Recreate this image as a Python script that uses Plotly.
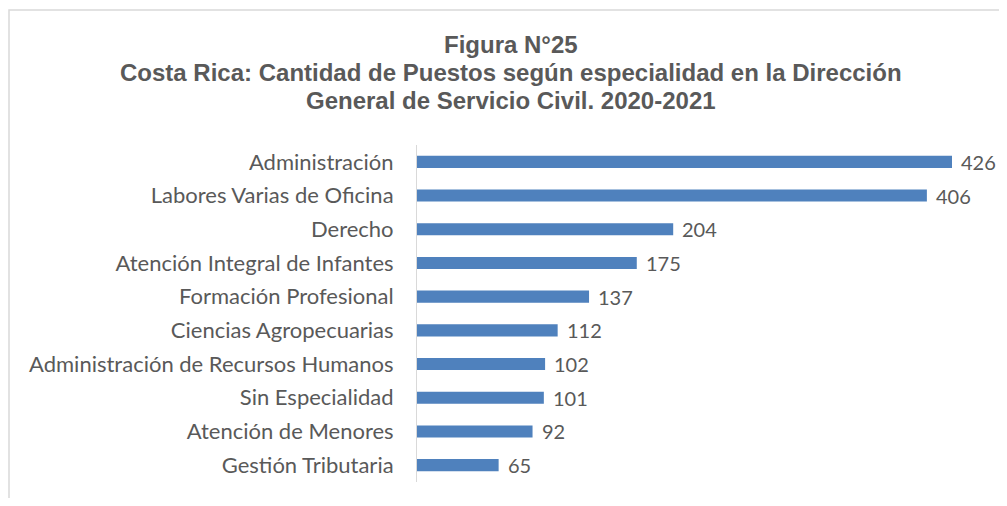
import plotly.graph_objects as go

categories = ["Administración", "Labores Varias de Oficina", "Derecho",
              "Atención Integral de Infantes", "Formación Profesional",
              "Ciencias Agropecuarias", "Administración de Recursos Humanos",
              "Sin Especialidad", "Atención de Menores", "Gestión Tributaria"]
values = [426, 406, 204, 175, 137, 112, 102, 101, 92, 65]
title_lines = ["Figura N°25",
               "Costa Rica: Cantidad de Puestos según especialidad en la Dirección",
               "General de Servicio Civil. 2020-2021"]

OFF = 8  # page body margin
W, H = 1007 - 2 * OFF, 506 - 2 * OFF
ml, mt = 417 - OFF, 145 - OFF
plot_bottom = 482 - OFF
plot_right = 990 - OFF
mr = W - plot_right
mb = H - plot_bottom
pw = plot_right - ml
ph = plot_bottom - mt
xmax = pw / (535 / 426)

gray = "#595959"
label_font = dict(family="Lato, Calibri, sans-serif", size=22, color=gray)
value_font = dict(family="Lato, Calibri, sans-serif", size=20, color=gray)

fig = go.Figure()
fig.add_trace(go.Bar(
    x=values, y=categories, orientation="h",
    marker=dict(color="#4f81bd", line=dict(width=0)),
    hoverinfo="x+y",
))
for c, v in zip(categories, values):
    fig.add_annotation(x=v, y=c, text=str(v), showarrow=False,
                       xanchor="left", yanchor="middle", xshift=8,
                       borderpad=0, font=value_font)

def py(p):
    return (plot_bottom - (p - OFF)) / ph

def px(p):
    return (p - OFF - ml) / pw

for txt, yc in zip(title_lines, [45, 73, 101]):
    fig.add_annotation(xref="paper", yref="paper", x=px(511), y=py(yc),
                       text="<b>" + txt + "</b>", showarrow=False,
                       xanchor="center", yanchor="middle",
                       font=dict(family="Liberation Sans, Arial, sans-serif", size=24, color=gray))

fig.update_layout(
    width=W, height=H,
    margin=dict(l=ml, r=mr, t=mt, b=mb),
    paper_bgcolor="white", plot_bgcolor="white",
    bargap=0.64,
    showlegend=False,
    xaxis=dict(range=[0, xmax], visible=False, fixedrange=True),
    yaxis=dict(autorange="reversed", showline=True, linecolor="#d9d9d9", linewidth=1,
               showgrid=False, ticks="", ticklabelstandoff=18,
               tickfont=label_font, fixedrange=True),
)

# chart frame (cropped at right/bottom in the reference)
fig.add_shape(type="rect", xref="paper", yref="paper",
              x0=px(9), x1=px(1040), y0=py(540), y1=py(10),
              line=dict(color="#d9d9d9", width=1.5), layer="below")

fig.write_html("out.html")
